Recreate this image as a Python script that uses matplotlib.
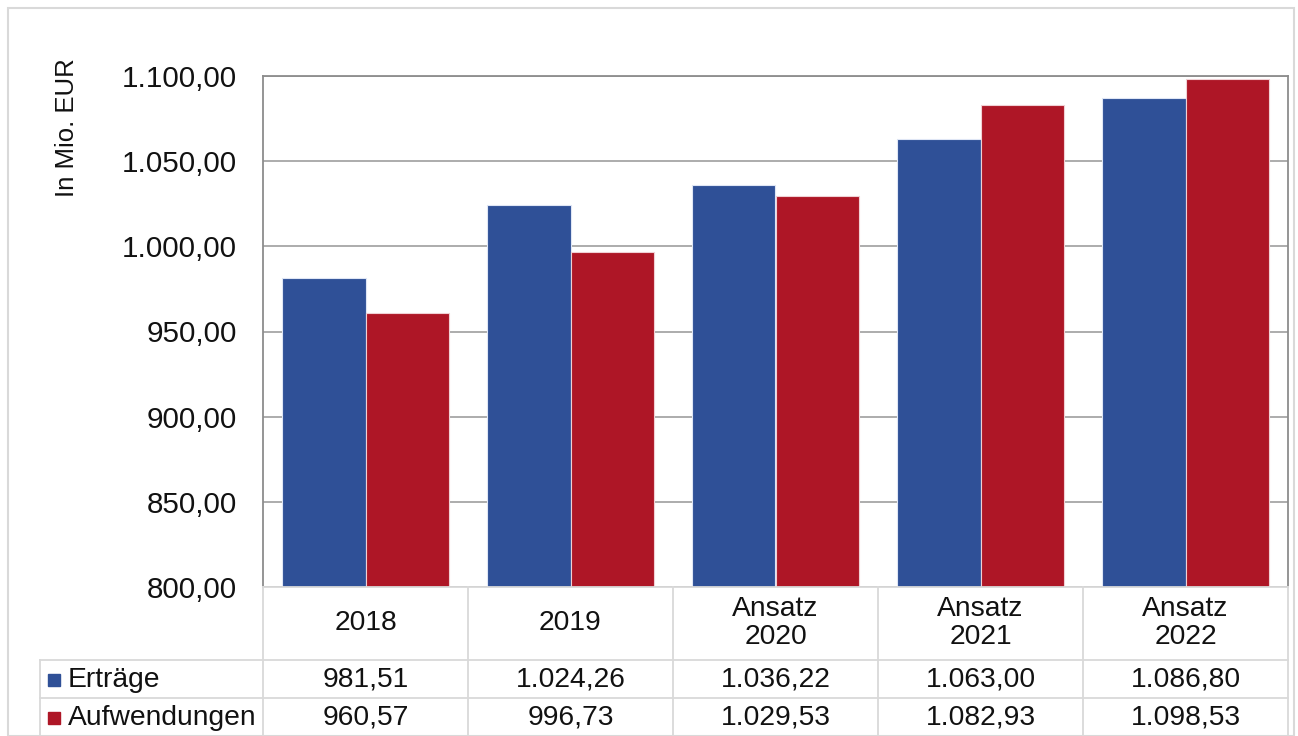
import matplotlib
matplotlib.use("Agg")
import matplotlib.pyplot as plt
from matplotlib.transforms import blended_transform_factory
from matplotlib.patches import Rectangle
from matplotlib.lines import Line2D
import numpy as np

categories = ["2018", "2019", "Ansatz\n2020", "Ansatz\n2021", "Ansatz\n2022"]
series_names = ["Erträge", "Aufwendungen"]
ertraege = [981.51, 1024.26, 1036.22, 1063.00, 1086.80]
aufwendungen = [960.57, 996.73, 1029.53, 1082.93, 1098.53]
yticks = [800, 850, 900, 950, 1000, 1050, 1100]
colors = ["#2F5097", "#AE1626"]


def de(v):
    s = f"{v:,.2f}"
    return s.replace(",", "X").replace(".", ",").replace("X", ".")


plt.rcParams['font.family'] = ['Liberation Sans', 'DejaVu Sans']
W, H = 1298, 736
fig = plt.figure(figsize=(W / 100, H / 100), dpi=100)

L, R, T, B = 263, 1288, 76, 587
ax = fig.add_axes([L / W, 1 - B / H, (R - L) / W, (B - T) / H])

x = np.arange(len(categories))
bw = 0.405
ax.bar(x - bw / 2, ertraege, width=bw, color=colors[0], edgecolor="#dfe6f5",
       linewidth=0.8, zorder=3)
ax.bar(x + bw / 2, aufwendungen, width=bw, color=colors[1], edgecolor="#f0d0d4",
       linewidth=0.8, zorder=3)

ax.set_xlim(-0.5, len(categories) - 0.5)
ax.set_ylim(800, 1100)
ax.set_yticks(yticks)
ax.set_yticklabels([de(v) for v in yticks], fontsize=21.3, color="#111111")
ax.tick_params(axis="y", length=0, pad=19)
ax.set_xticks([])
ax.yaxis.grid(True, color="#a6a6a6", linewidth=1.3, zorder=0)
ax.set_axisbelow(True)
for side in ["top", "right", "left"]:
    ax.spines[side].set_color("#8c8c8c")
    ax.spines[side].set_linewidth(1.3)
ax.spines["bottom"].set_visible(False)

fig.text(67 / W, 1 - 128 / H, "In Mio. EUR", rotation=90, fontsize=18.5,
         ha="center", va="center", color="#111111")

# data table below axis
tr = blended_transform_factory(ax.transData, fig.transFigure)
grid_c = "#d9d9d9"
fy = lambda py: 1 - py / H
row_tops = [587, 660, 698]
row_centers = [623, 680, 718]
tfs = 20.3

# vertical column lines
for b in np.arange(-0.5, len(categories), 1.0):
    fig.add_artist(Line2D([b, b], [fy(587), fy(736)], transform=tr,
                          color=grid_c, linewidth=1.3))
# horizontal lines
fig.add_artist(Line2D([-0.5, len(categories) - 0.5], [fy(587), fy(587)],
                      transform=tr, color=grid_c, linewidth=1.3))
for yy in row_tops[1:]:
    fig.add_artist(Line2D([40 / W, R / W], [fy(yy), fy(yy)],
                          transform=fig.transFigure, color=grid_c, linewidth=1.3))
fig.add_artist(Line2D([40 / W, 40 / W], [fy(660), fy(736)],
                      transform=fig.transFigure, color=grid_c, linewidth=1.3))

for i, c in enumerate(categories):
    fig.text(i, fy(row_centers[0]), c, transform=tr, ha="center", va="center",
             fontsize=tfs, linespacing=1.12, color="#111111")
for r, vals in enumerate([ertraege, aufwendungen]):
    for i, v in enumerate(vals):
        fig.text(i, fy(row_centers[r + 1]), de(v), transform=tr, ha="center",
                 va="center", fontsize=tfs, color="#111111")
    fig.add_artist(Rectangle((48 / W, fy(row_centers[r + 1] + 6)), 12 / W, 12 / H,
                             transform=fig.transFigure, color=colors[r]))
    fig.text(68 / W, fy(row_centers[r + 1]), series_names[r], ha="left",
             va="center", fontsize=tfs, color="#111111")

# outer frame
fig.add_artist(Rectangle((8 / W, 0), (1294 - 8) / W, 1 - 8 / H,
                         transform=fig.transFigure, fill=False,
                         edgecolor="#d9d9d9", linewidth=1.5))

fig.savefig("out.png", dpi=100)
